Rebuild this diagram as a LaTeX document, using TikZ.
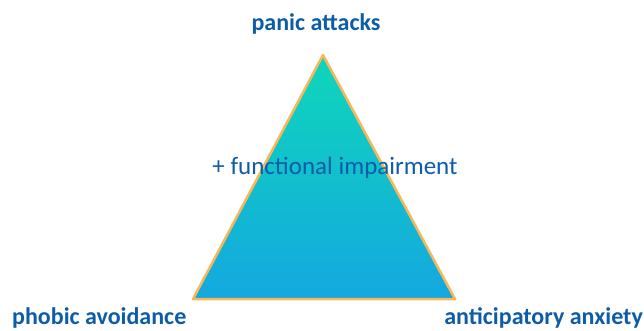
\documentclass[tikz,border=0pt]{standalone}
\usepackage{fontspec}
\setmainfont{Carlito}
\usetikzlibrary{positioning}

\definecolor{labelblue}{HTML}{0C5CA8}
\definecolor{topgreen}{HTML}{0FD6BA}
\definecolor{midcyan}{HTML}{20CCDE}
\definecolor{botblue}{HTML}{14A8E0}
\definecolor{edgeorange}{HTML}{F8B75A}

\tikzset{
  corner/.style={font=\fontsize{24}{24}\selectfont\bfseries, text=labelblue, inner sep=0pt},
  inside/.style={font=\fontsize{25}{25}\selectfont, text=labelblue, inner sep=0pt}
}

\begin{document}
\begin{tikzpicture}[x=1pt,y=1pt]
  \useasboundingbox (0,0) rectangle (644,330);
  \coordinate (apex) at (323,275);
  \coordinate (left) at (193,31);
  \coordinate (right) at (455,31);
  \shade [top color=topgreen, middle color=midcyan, bottom color=botblue]
    (apex) -- (left) -- (right) -- cycle;
  \draw [edgeorange, line width=2.5pt, line join=round] (apex) -- (left) -- (right) -- cycle;
  \node [corner] (panic) at (316,306) {panic attacks};
  \node [corner, anchor=west] (phobic) at (12,12) {phobic avoidance};
  \node [corner, anchor=east] (anticip) at (643,12) {anticipatory anxiety};
  \node [inside] (impair) at (335,162) {+ functional impairment};
\end{tikzpicture}
\end{document}
